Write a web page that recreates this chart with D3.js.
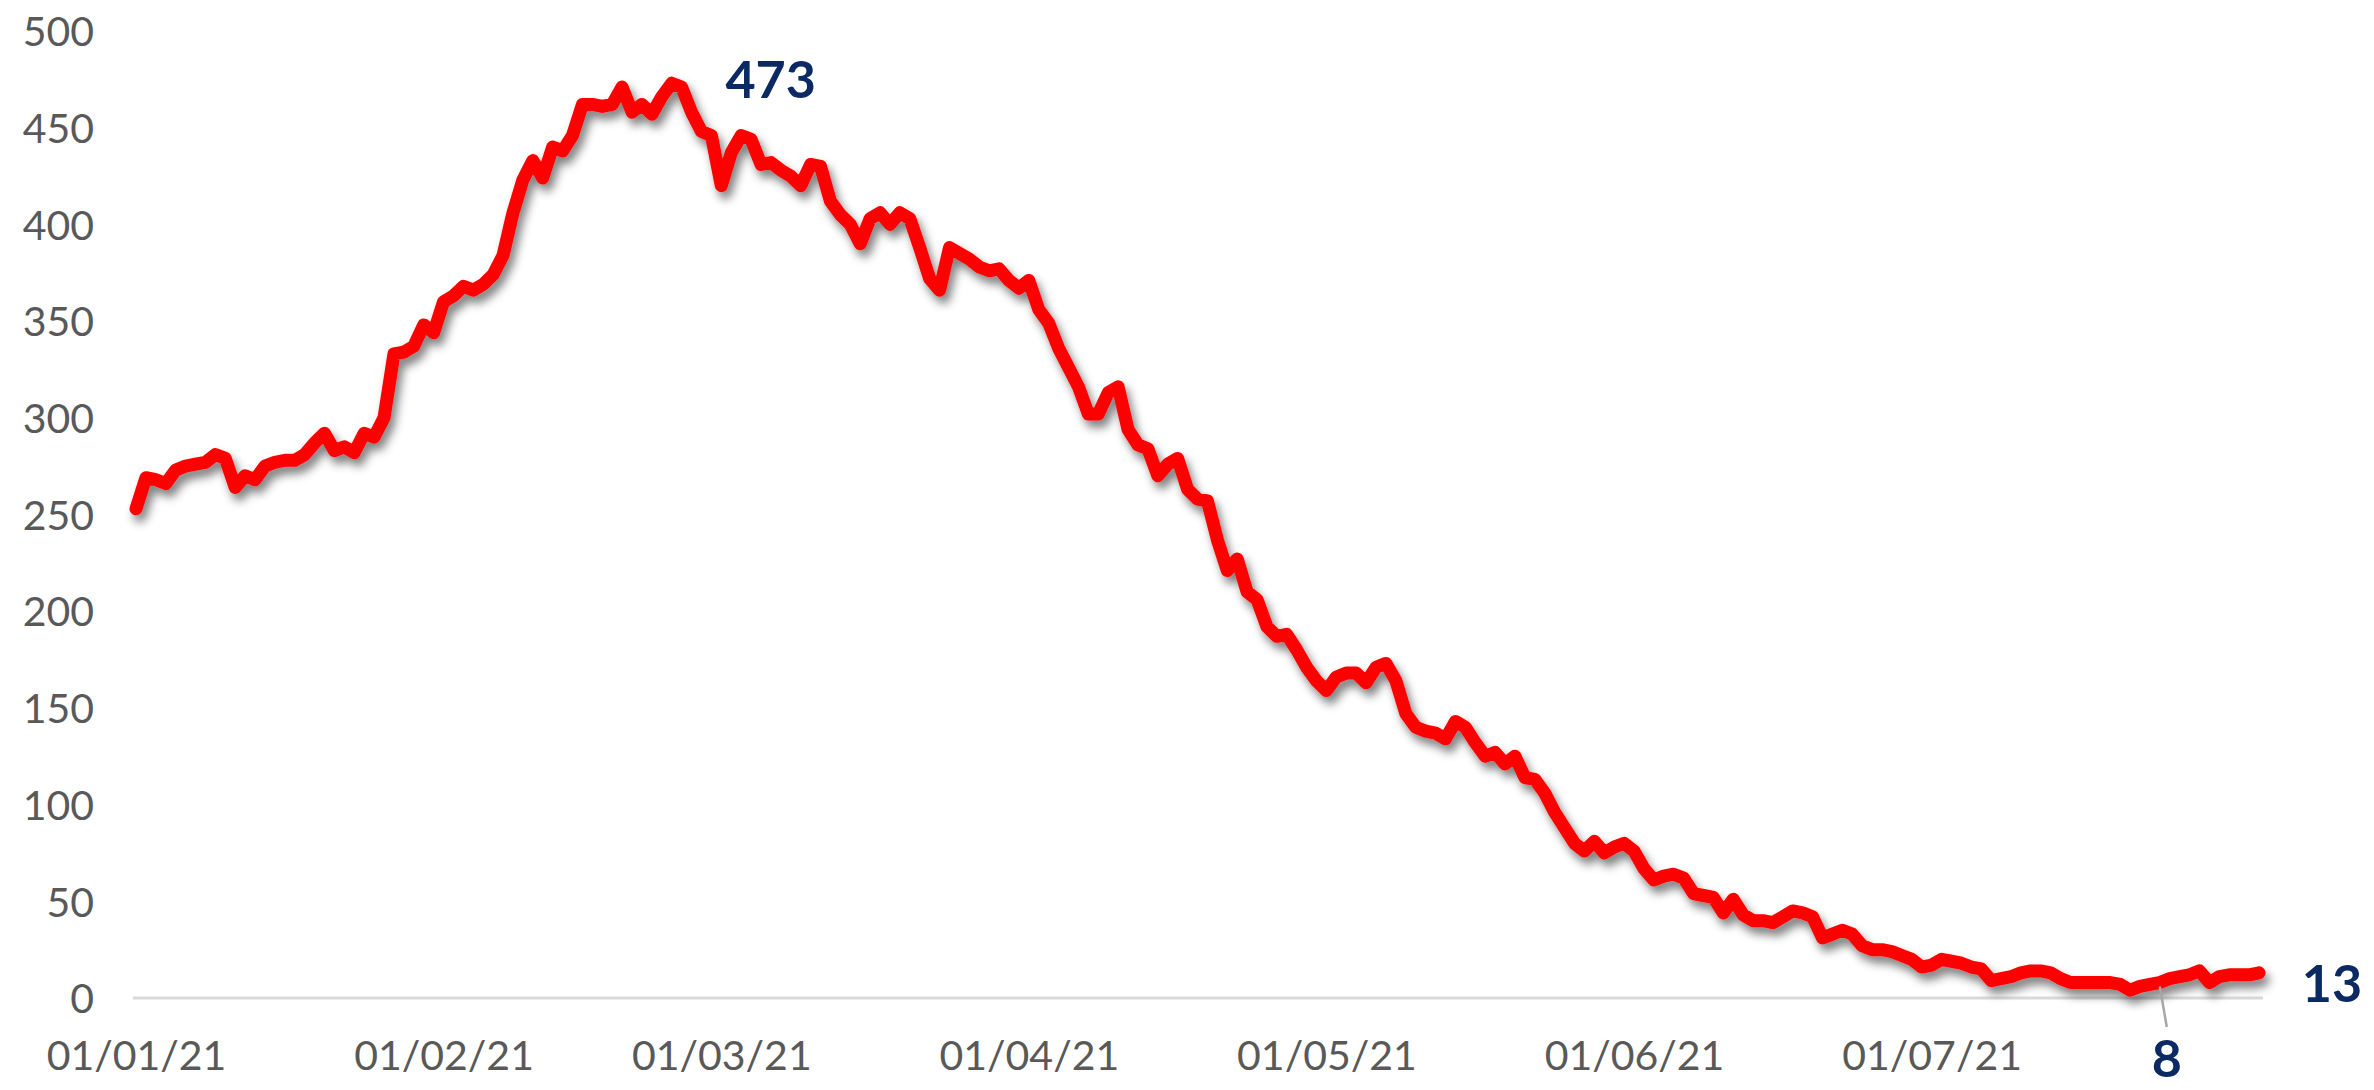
<!DOCTYPE html>
<html>
<head>
<meta charset="utf-8">
<script src="https://cdn.jsdelivr.net/npm/d3@7/dist/d3.min.js"></script>
<style>
  html, body { margin: 0; padding: 0; background: #ffffff; }
  svg { display: block; }
</style>
</head>
<body>
<svg id="chart" width="2374" height="1090"></svg>
<script>
// ---- Data ----
const startDate = "2021-01-01";
const values = [
  253,269,268,266,273,275,276,277,281,279,264,270,268,275,277,278,278,281,287,292,
  283,285,282,292,290,300,333,334,337,348,344,360,363,368,366,369,374,384,406,423,
  433,424,440,438,446,462,462,461,462,471,458,462,457,466,473,471,458,448,446,420,
  437,446,444,431,432,428,425,420,431,430,412,405,400,390,403,406,400,406,403,388,
  372,366,388,385,382,378,376,377,371,367,371,356,349,336,326,316,302,302,313,316,
  294,286,284,270,276,279,263,258,257,237,221,227,210,206,192,187,188,180,171,164,
  159,166,168,168,163,171,173,164,147,140,138,137,134,143,140,132,125,127,121,125,
  114,113,106,96,88,80,76,81,75,78,80,76,67,61,63,64,62,54,53,52,
  44,51,43,40,40,39,42,45,44,42,31,33,35,33,27,25,25,24,22,20,
  16,17,20,19,18,16,15,9,10,11,13,14,14,13,10,8,8,8,8,8,
  7,4,6,7,8,10,11,12,14,8,11,12,12,12,13
];
const yTicks = [0, 50, 100, 150, 200, 250, 300, 350, 400, 450, 500];
const xTickDates = ["2021-01-01","2021-02-01","2021-03-01","2021-04-01","2021-05-01","2021-06-01","2021-07-01"];
// annotations: index into values, label text
const annotations = [
  { index: 54, text: "473", pos: "right" },
  { index: 214, text: "13", pos: "end" },
  { index: 204, text: "8", pos: "below" }
];

// ---- Setup ----
const parse = d3.utcParse("%Y-%m-%d");
const t0 = parse(startDate);
const data = values.map((v, i) => ({ date: d3.utcDay.offset(t0, i), value: v }));

const svg = d3.select("#chart");

const x = d3.scaleUtc()
  .domain([data[0].date, data[data.length - 1].date])
  .range([136, 2259]);
const y = d3.scaleLinear()
  .domain([0, 500])
  .range([998, 31]);

const textColor = "#595959";
const font = "Lato, Carlito, Calibri, 'Open Sans', sans-serif";

// Drop shadow filter
const defs = svg.append("defs");
const f = defs.append("filter").attr("id", "shadow")
  .attr("x", "-5%").attr("y", "-5%").attr("width", "110%").attr("height", "120%");
f.append("feGaussianBlur").attr("in", "SourceAlpha").attr("stdDeviation", 5).attr("result", "blur");
f.append("feOffset").attr("in", "blur").attr("dx", 4).attr("dy", 7).attr("result", "off");
f.append("feFlood").attr("flood-color", "#000").attr("flood-opacity", 0.5).attr("result", "col");
f.append("feComposite").attr("in", "col").attr("in2", "off").attr("operator", "in").attr("result", "sh");
const fm = f.append("feMerge");
fm.append("feMergeNode").attr("in", "sh");
fm.append("feMergeNode").attr("in", "SourceGraphic");

// Y axis (labels only)
const yAxis = d3.axisLeft(y).tickValues(yTicks).tickSize(0).tickPadding(0);
const gy = svg.append("g").attr("transform", "translate(94,0)").call(yAxis);
gy.select(".domain").remove();
gy.selectAll("text")
  .attr("fill", textColor)
  .style("font-family", font)
  .style("font-size", "41px")
  .attr("dy", "0.36em");

// X axis
const xAxis = d3.axisBottom(x)
  .tickValues(xTickDates.map(parse))
  .tickFormat(d3.utcFormat("%d/%m/%y"))
  .tickSize(0)
  .tickPadding(0);
const gx = svg.append("g").attr("transform", `translate(0,${y(0)})`).call(xAxis);
gx.select(".domain").remove();
gx.selectAll("text")
  .attr("fill", textColor)
  .style("font-family", font)
  .style("font-size", "41px")
  .attr("y", 57)
  .attr("dy", "0.36em");

// Baseline
svg.append("line")
  .attr("x1", x.range()[0] - 3).attr("x2", x.range()[1] + 4)
  .attr("y1", y(0)).attr("y2", y(0))
  .attr("stroke", "#d9d9d9").attr("stroke-width", 3);

// Line
const line = d3.line().x(d => x(d.date)).y(d => y(d.value));
svg.append("path")
  .datum(data)
  .attr("d", line)
  .attr("fill", "none")
  .attr("stroke", "#ff0000")
  .attr("stroke-width", 13)
  .attr("stroke-linejoin", "round")
  .attr("stroke-linecap", "round")
  .attr("filter", "url(#shadow)");

// Annotations
const annColor = "#0b2a63";
annotations.forEach(a => {
  const d = data[a.index];
  const px = x(d.date), py = y(d.value);
  let tx, ty, anchor = "middle";
  if (a.pos === "right") { tx = px + 99; ty = py - 4; }
  else if (a.pos === "end") { tx = px + 73; ty = py + 10; }
  else {
    tx = px + 7; ty = 1058;
    svg.append("line")
      .attr("x1", px).attr("y1", py + 4)
      .attr("x2", px + 7).attr("y2", 1027)
      .attr("stroke", "#a6a6a6").attr("stroke-width", 2.5);
  }
  svg.append("text")
    .attr("x", tx).attr("y", ty)
    .attr("dy", "0.36em")
    .attr("text-anchor", anchor)
    .attr("fill", annColor)
    .style("font-family", font)
    .style("font-weight", "bold")
    .style("font-size", "52px")
    .text(a.text);
});
</script>
</body>
</html>
